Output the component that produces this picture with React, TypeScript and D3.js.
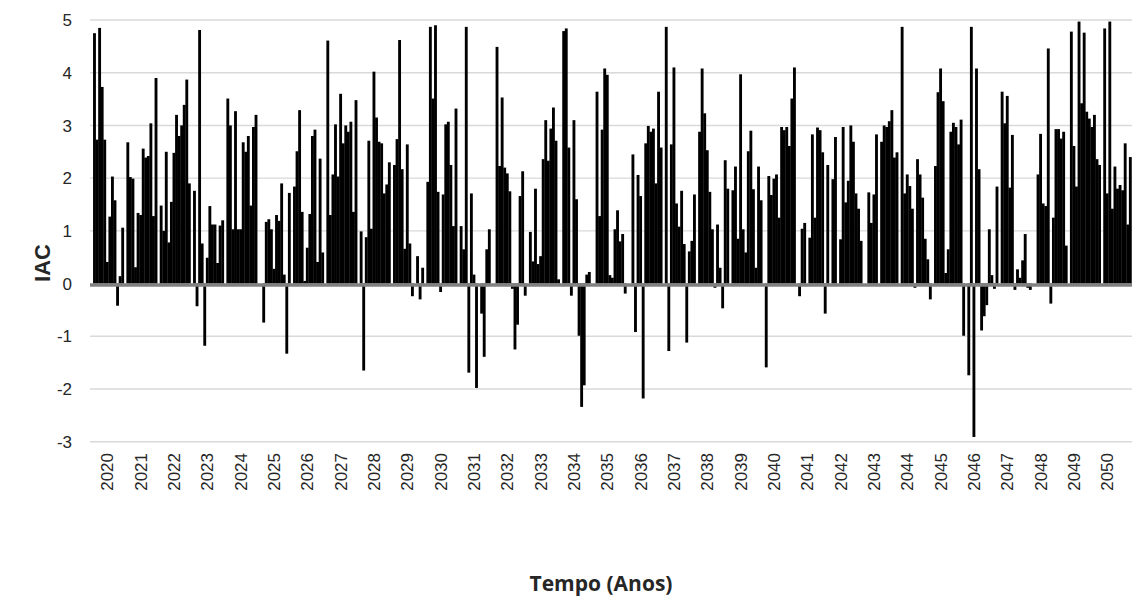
import React from 'react';
import * as d3 from 'd3';

// Monthly-like IAC values (13 slots per year label)
const iacValues: number[] = [
  4.75, 2.73, 4.85, 3.73, 2.73, 0.41, 1.27, 2.03, 1.58, -0.42, 0.14, 1.06, 0,
  2.68, 2.02, 1.99, 0.31, 1.34, 1.30, 2.56, 2.39, 2.42, 3.04, 1.28, 3.9, 0,
  1.48, 1.0, 2.5, 0.78, 1.55, 2.48, 3.2, 2.8, 3.0, 3.39, 3.87, 1.9, 0,
  1.76, -0.43, 4.81, 0.76, -1.18, 0.49, 1.47, 1.12, 1.12, 0.39, 1.1, 1.2, 0,
  3.51, 3.0, 1.03, 3.27, 1.03, 1.03, 2.68, 2.5, 2.8, 1.48, 2.97, 3.2, 0,
  0, -0.74, 1.17, 1.22, 1.03, 0.28, 1.3, 1.19, 1.9, 0.17, -1.33, 1.72, 0,
  1.84, 2.51, 3.29, 1.36, 0.05, 0.68, 1.32, 2.8, 2.92, 0.41, 2.37, 0.59, 0,
  4.61, 1.3, 2.07, 3.02, 2.03, 3.6, 2.66, 3.0, 2.88, 3.07, 1.36, 3.48, 0,
  0.99, -1.65, 0.88, 2.71, 1.04, 4.02, 3.15, 2.69, 2.66, 1.71, 1.88, 2.3, 0,
  2.25, 2.74, 4.62, 2.17, 0.66, 2.64, 0.76, -0.24, 0, 0.52, -0.3, 0.3, 0,
  1.93, 4.87, 3.51, 4.9, 1.74, -0.16, 1.69, 3.02, 3.07, 2.25, 1.09, 3.32, 0,
  1.09, 0.65, 4.87, -1.69, 1.71, 0.17, -1.98, 0, -0.57, -1.39, 0.65, 1.03, 0,
  0, 4.49, 2.23, 3.53, 2.2, 2.09, 1.75, -0.1, -1.25, -0.78, 1.66, 2.13, -0.23,
  0, 0.98, 0.42, 1.8, 0.37, 0.52, 2.36, 3.1, 2.33, 2.94, 3.34, 2.71, 0.08,
  0, 4.79, 4.84, 2.58, -0.23, 3.1, 1.6, -0.99, -2.34, -1.93, 0.17, 0.22, 0,
  0, 3.64, 1.28, 2.92, 4.08, 3.96, 0.16, 0.11, 1.03, 1.39, 0.8, 0.94, -0.19,
  0, 0, 2.45, -0.92, 2.06, 1.66, -2.18, 2.66, 2.99, 2.88, 2.94, 1.9, 3.64,
  2.58, 0, 4.87, -1.28, 2.64, 4.1, 1.52, 1.08, 1.76, 0.75, -1.12, 0.61, 0.81,
  1.69, 0, 2.88, 4.08, 3.23, 2.53, 1.74, 1.03, -0.08, 1.12, 0.3, -0.47, 2.34,
  1.8, 0, 1.77, 2.22, 0.85, 3.97, 1.03, 0.59, 2.51, 2.9, 1.79, 0.3, 2.22,
  1.58, 0, -1.59, 2.04, 1.68, 1.99, 2.07, 1.25, 2.97, 2.91, 2.97, 2.61, 3.51,
  4.1, 0, -0.24, 1.04, 1.15, 0, 0.87, 2.83, 1.25, 2.96, 2.91, 2.49, -0.57,
  2.25, 0, 1.98, 2.78, 0, 0.84, 2.97, 1.54, 1.95, 3.0, 2.69, 1.71, 1.42,
  0.81, 0, 0, 1.73, 1.15, 1.69, 2.83, 0, 2.69, 3.0, 2.97, 3.08, 3.29,
  2.39, 2.49, 0, 4.87, 1.71, 2.07, 1.85, 1.42, -0.08, 2.36, 2.07, 1.63, 0.85,
  0.46, -0.3, 0, 2.23, 3.63, 4.08, 3.46, 0.2, 0.65, 2.88, 3.05, 2.97, 2.64,
  3.11, -0.99, 0, -1.74, 4.87, -2.91, 4.08, 2.17, -0.89, -0.62, -0.41, 1.03, 0.16,
  -0.1, 1.84, 0, 3.64, 3.04, 3.56, 1.82, 2.82, -0.12, 0.27, 0.11, 0.44, 0.94,
  -0.08, -0.12, 0, 0, 2.07, 2.84, 1.52, 1.47, 4.46, -0.38, 1.25, 2.93, 2.93,
  2.75, 2.88, 0.72, 0, 4.78, 2.61, 1.84, 4.97, 3.42, 4.76, 3.26, 3.13, 2.97,
  3.2, 2.36, 2.25, 0, 4.84, 1.71, 4.97, 1.42, 2.22, 1.8, 1.87, 1.77, 2.66,
  1.12, 2.4,
];

const yearLabels: string[] = [
  '2020', '2021', '2022', '2023', '2024', '2025', '2026', '2027', '2028', '2029',
  '2030', '2031', '2032', '2033', '2034', '2035', '2036', '2037', '2038', '2039',
  '2040', '2041', '2042', '2043', '2044', '2045', '2046', '2047', '2048', '2049', '2050',
];
const slotsPerLabel = 13;
const labelOffset = 5;

const yTicks: number[] = [-3, -2, -1, 0, 1, 2, 3, 4, 5];

const W = 1132;
const H = 598;

export default function App() {
  const x = d3
    .scaleBand<number>()
    .domain(d3.range(iacValues.length))
    .range([93.2, 1131.6])
    .padding(0);
  const y = d3.scaleLinear().domain([-3, 5]).range([441.7, 20]);
  const bw = x.bandwidth();
  const plotLeft = 90;
  const plotRight = W;
  const font = "'Liberation Sans', Arial, sans-serif";

  return (
    <svg
      width={W}
      height={H}
      style={{ position: 'absolute', left: 0, top: 0, background: '#fff' }}
    >
      <rect x={0} y={0} width={W} height={H} fill="#fff" />
      {yTicks
        .filter((t) => t !== 0)
        .map((t) => (
          <line
            key={'g' + t}
            x1={plotLeft}
            x2={plotRight}
            y1={y(t)}
            y2={y(t)}
            stroke="#d9d9d9"
            strokeWidth={1.4}
          />
        ))}
      {iacValues.map((v, i) => {
        const y0 = y(0);
        const yv = y(v);
        return (
          <rect
            key={'b' + i}
            x={(x(i) as number) - 0.15}
            width={bw + 0.3}
            y={Math.min(y0, yv)}
            height={Math.abs(yv - y0)}
            fill="#000"
          />
        );
      })}
      <line
        x1={plotLeft}
        x2={plotRight}
        y1={y(0) + 1.5}
        y2={y(0) + 1.5}
        stroke="#808080"
        strokeWidth={3.5}
      />
      {yTicks.map((t) => (
        <text
          key={'yt' + t}
          x={72}
          y={y(t)}
          dy="0.36em"
          textAnchor="end"
          fontFamily={font}
          fontSize={17}
          fill="#262626"
        >
          {t}
        </text>
      ))}
      {yearLabels.map((lab, k) => {
        const idx = k * slotsPerLabel + labelOffset;
        const cx = (x(idx) as number) + bw / 2;
        return (
          <text
            key={'xl' + lab}
            transform={`translate(${cx},453) rotate(-90)`}
            dy="0.36em"
            textAnchor="end"
            fontFamily={font}
            fontSize={17}
            fill="#262626"
          >
            {lab}
          </text>
        );
      })}
      <text
        transform="translate(42,263) rotate(-90)"
        dy="0.36em"
        textAnchor="middle"
        fontFamily={font}
        fontWeight="bold"
        fontSize={22}
        fill="#262626"
      >
        IAC
      </text>
      <text
        x={601}
        y={591}
        textAnchor="middle"
        fontFamily="'Open Sans', sans-serif"
        fontWeight="bold"
        fontSize={21}
        fill="#262626"
      >
        Tempo (Anos)
      </text>
    </svg>
  );
}
